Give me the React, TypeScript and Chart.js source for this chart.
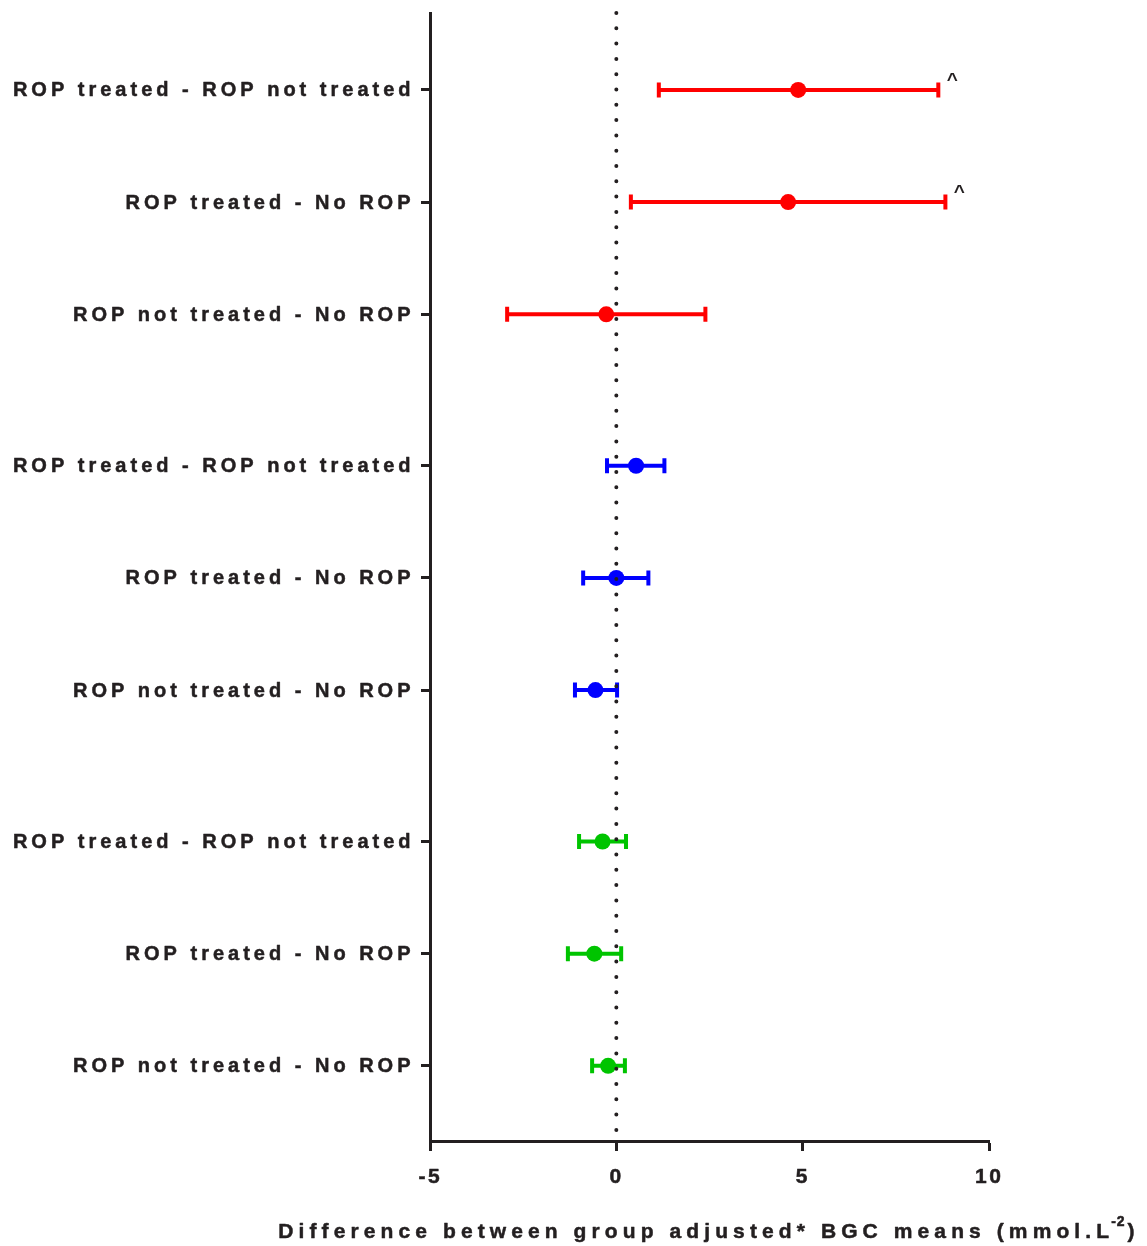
import React, { useEffect, useRef } from "react";
import { Chart, registerables } from "chart.js";

Chart.register(...registerables);

// ---- data ----
const ROW_LABELS = ["ROP treated - ROP not treated", "ROP treated - No ROP", "ROP not treated - No ROP"];
const GROUP_COLORS = ["#ff0000", "#0000ff", "#00c400"];

const RED_MEANS = [4.88, 4.61, -0.27];
const RED_LOWER = [1.14, 0.39, -2.93];
const RED_UPPER = [8.64, 8.83, 2.39];
const RED_MARKS = ["^", "^", ""];

const BLUE_MEANS = [0.53, 0.0, -0.56];
const BLUE_LOWER = [-0.25, -0.89, -1.11];
const BLUE_UPPER = [1.29, 0.86, 0.02];
const BLUE_MARKS = ["", "", ""];

const GREEN_MEANS = [-0.37, -0.59, -0.22];
const GREEN_LOWER = [-1.0, -1.3, -0.65];
const GREEN_UPPER = [0.26, 0.13, 0.23];
const GREEN_MARKS = ["", "", ""];

const X_TICKS = [-5, 0, 5, 10];
const X_TITLE = "Difference between group adjusted* BGC means (mmol.L";
const X_TITLE_SUP = "-2";
const X_TITLE_END = ")";

// ---- layout helpers ----
const GROUP_GAP = 1.35;
const GROUPS = [
  { color: GROUP_COLORS[0], means: RED_MEANS, lower: RED_LOWER, upper: RED_UPPER, marks: RED_MARKS },
  { color: GROUP_COLORS[1], means: BLUE_MEANS, lower: BLUE_LOWER, upper: BLUE_UPPER, marks: BLUE_MARKS },
  { color: GROUP_COLORS[2], means: GREEN_MEANS, lower: GREEN_LOWER, upper: GREEN_UPPER, marks: GREEN_MARKS },
];
const rowPos = (g: number, r: number) => g * (ROW_LABELS.length - 1 + GROUP_GAP) + r;
const ALL_POS: { pos: number; label: string }[] = [];
GROUPS.forEach((_, g) => ROW_LABELS.forEach((l, r) => ALL_POS.push({ pos: rowPos(g, r), label: l })));
const Y_MIN = -0.686;
const Y_MAX = 9.37;

const INK = "#231f20";
const FONT = "Arial, 'Liberation Sans', sans-serif";

function heavyText(ctx: any, text: string, x: number, y: number) {
  ctx.fillText(text, x, y);
  ctx.strokeText(text, x, y);
}

export default function App() {
  const ref = useRef<HTMLCanvasElement | null>(null);

  useEffect(() => {
    if (!ref.current) return;

    const errorBars = {
      id: "errorBars",
      beforeDatasetsDraw(chart: any) {
        const ctx = chart.ctx;
        const xs = chart.scales.x;
        const ys = chart.scales.y;
        ctx.save();
        GROUPS.forEach((grp, g) => {
          grp.means.forEach((_, i) => {
            const y = ys.getPixelForValue(rowPos(g, i));
            const x1 = xs.getPixelForValue(grp.lower[i]);
            const x2 = xs.getPixelForValue(grp.upper[i]);
            ctx.strokeStyle = grp.color;
            ctx.lineWidth = 4;
            ctx.lineCap = "butt";
            ctx.beginPath();
            ctx.moveTo(x1, y);
            ctx.lineTo(x2, y);
            ctx.moveTo(x1, y - 7.5);
            ctx.lineTo(x1, y + 7.5);
            ctx.moveTo(x2, y - 7.5);
            ctx.lineTo(x2, y + 7.5);
            ctx.stroke();
          });
        });
        ctx.restore();
      },
      afterDatasetsDraw(chart: any) {
        const ctx = chart.ctx;
        const xs = chart.scales.x;
        const ys = chart.scales.y;
        ctx.save();
        ctx.letterSpacing = "0px";
        ctx.fillStyle = INK;
        ctx.font = `bold 19px ${FONT}`;
        ctx.textAlign = "center";
        ctx.textBaseline = "alphabetic";
        GROUPS.forEach((grp, g) => {
          grp.marks.forEach((m, i) => {
            if (!m) return;
            const y = ys.getPixelForValue(rowPos(g, i));
            const x2 = xs.getPixelForValue(grp.upper[i]);
            ctx.fillText(m, x2 + 14, y - 4);
          });
        });
        ctx.restore();
      },
    };

    const texts = {
      id: "texts",
      afterDraw(chart: any) {
        const ctx = chart.ctx;
        const xs = chart.scales.x;
        const ys = chart.scales.y;
        ctx.save();
        ctx.fillStyle = INK;
        ctx.strokeStyle = INK;
        ctx.lineWidth = 0.5;
        ctx.lineJoin = "round";

        // y tick labels
        ctx.font = `bold 20px ${FONT}`;
        ctx.letterSpacing = "4px";
        ctx.textAlign = "right";
        ctx.textBaseline = "middle";
        ALL_POS.forEach((p) => {
          const y = ys.getPixelForValue(p.pos);
          heavyText(ctx, p.label, 414.5, y + 1);
        });

        // x tick labels
        ctx.font = `bold 21px ${FONT}`;
        ctx.letterSpacing = "2.5px";
        ctx.textAlign = "left";
        ctx.textBaseline = "middle";
        X_TICKS.forEach((v) => {
          const label = String(v);
          const w = ctx.measureText(label).width - 2.5;
          const x = xs.getPixelForValue(v);
          heavyText(ctx, label, x - w / 2 - 1, 1177);
        });

        // x title
        ctx.textAlign = "left";
        ctx.textBaseline = "alphabetic";
        const mainFont = `bold 21px ${FONT}`;
        const supFont = `bold 14px ${FONT}`;
        const ls = "5.1px";
        ctx.letterSpacing = ls;
        ctx.font = mainFont;
        const w1 = ctx.measureText(X_TITLE).width;
        const w3 = ctx.measureText(X_TITLE_END).width;
        ctx.font = supFont;
        ctx.letterSpacing = "1px";
        const w2 = ctx.measureText(X_TITLE_SUP).width;
        const cx = (xs.left + xs.right) / 2;
        const base = 1238;
        let x = cx - (w1 + w2 + w3) / 2;
        ctx.font = mainFont;
        ctx.letterSpacing = ls;
        heavyText(ctx, X_TITLE, x, base);
        x += w1 - 3;
        ctx.font = supFont;
        ctx.letterSpacing = "1px";
        heavyText(ctx, X_TITLE_SUP, x, base - 12);
        x += w2 + 2;
        ctx.font = mainFont;
        ctx.letterSpacing = ls;
        heavyText(ctx, X_TITLE_END, x, base);
        ctx.restore();
      },
    };

    const chart = new Chart(ref.current, {
      type: "scatter",
      data: {
        datasets: [
          {
            label: "zero",
            data: [
              { x: 0, y: Y_MIN },
              { x: 0, y: Y_MAX },
            ],
            showLine: true,
            borderColor: INK,
            borderWidth: 4,
            borderDash: [0, 15.3],
            borderCapStyle: "round",
            pointRadius: 0,
            order: -1,
            clip: false,
          } as any,
          ...GROUPS.map((grp, g) => ({
            label: "g" + g,
            data: grp.means.map((m, i) => ({ x: m, y: rowPos(g, i) })),
            backgroundColor: grp.color,
            borderWidth: 0,
            pointRadius: 8,
            pointHoverRadius: 8,
            order: 1,
          })),
        ],
      },
      options: {
        animation: false,
        responsive: false,
        events: [],
        layout: { padding: { top: 13, right: 158, left: 0, bottom: 0 } },
        plugins: { legend: { display: false }, tooltip: { enabled: false } },
        scales: {
          x: {
            type: "linear",
            min: -5,
            max: 10,
            afterBuildTicks: (s: any) => {
              s.ticks = X_TICKS.map((v) => ({ value: v }));
            },
            afterFit: (s: any) => {
              s.height = 105;
              s.paddingLeft = 0;
              s.paddingRight = 0;
            },
            ticks: { display: false, autoSkip: false },
            grid: {
              drawOnChartArea: false,
              drawTicks: true,
              tickLength: 10,
              tickWidth: 3,
              tickColor: INK,
              color: INK,
            },
            border: { display: true, width: 3, color: INK },
          },
          y: {
            type: "linear",
            reverse: true,
            min: Y_MIN,
            max: Y_MAX,
            afterBuildTicks: (s: any) => {
              s.ticks = ALL_POS.map((p) => ({ value: p.pos }));
            },
            afterFit: (s: any) => {
              s.width = 430;
              s.paddingTop = 0;
              s.paddingBottom = 0;
            },
            ticks: { display: false, autoSkip: false },
            grid: {
              drawOnChartArea: false,
              drawTicks: true,
              tickLength: 9,
              tickWidth: 3,
              tickColor: INK,
              color: INK,
            },
            border: { display: true, width: 3, color: INK },
          },
        },
      },
      plugins: [texts, errorBars],
    } as any);

    return () => chart.destroy();
  }, []);

  return (
    <div style={{ position: "absolute", left: 0, top: 0, width: 1147, height: 1246, background: "#fff" }}>
      <canvas ref={ref} width={1147} height={1246} style={{ display: "block", width: 1147, height: 1246 }} />
    </div>
  );
}
